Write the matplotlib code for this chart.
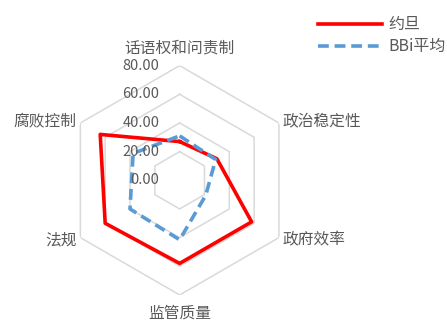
import numpy as np
import matplotlib.pyplot as plt

plt.rcParams['font.family'] = ['Noto Sans CJK SC', 'DejaVu Sans']

categories = ["话语权和问责制", "政治稳定性", "政府效率", "监管质量", "法规", "腐败控制"]
jordan = [27, 30, 58, 58, 60, 64]
bbi_avg = [31, 29, 21, 41.5, 40, 37.5]
ticks = [0, 20, 40, 60, 80]
tick_labels = ["0.00", "20.00", "40.00", "60.00", "80.00"]

grey_text = "#595959"
grid_col = "#D9D9D9"
red = "#FF0000"
blue = "#5B9BD5"

n = len(categories)
angles = np.linspace(0, 2 * np.pi, n, endpoint=False)
closed = np.append(angles, angles[0])

fig = plt.figure(figsize=(4.47, 3.22), dpi=100)
ax = fig.add_axes([0.1454, 0.0839, 0.513, 0.7124], projection="polar")
ax.set_theta_offset(np.pi / 2)
ax.set_theta_direction(-1)
ax.set_ylim(0, 80)
ax.grid(False)
ax.spines["polar"].set_visible(False)
ax.set_xticks([])
ax.set_yticks([])
ax.patch.set_alpha(0)

# hexagon gridlines
for v in ticks[1:]:
    ax.plot(closed, [v] * (n + 1), color=grid_col, lw=1.1, zorder=1)

ax.plot(closed, jordan + jordan[:1], color=red, lw=2.6, label="约旦", zorder=3)
ax.plot(closed, bbi_avg + bbi_avg[:1], color=blue, lw=2.6,
        linestyle=(0, (3, 1.6)), label="BBi平均", zorder=4)

# radial value labels
for v, lab in zip(ticks, tick_labels):
    ax.annotate(lab, xy=(0, v), xytext=(-14.5, 0), textcoords="offset points",
                ha="right", va="center", fontsize=10.5, color=grey_text, zorder=5)

# category labels
label_r = [92.5, 83, 83, 92.5, 83, 83]
has = ["center", "left", "left", "center", "right", "right"]
for ang, cat, r, ha in zip(angles, categories, label_r, has):
    ax.text(ang, r, cat, ha=ha, va="center", fontsize=11.3, color=grey_text)

leg = fig.legend(loc="upper right", bbox_to_anchor=(1.03, 0.994), frameon=False,
                 fontsize=11.5, handlelength=4.0, handletextpad=0.4,
                 labelspacing=0.3)
for t in leg.get_texts():
    t.set_color(grey_text)

fig.savefig("out.png", dpi=100)
